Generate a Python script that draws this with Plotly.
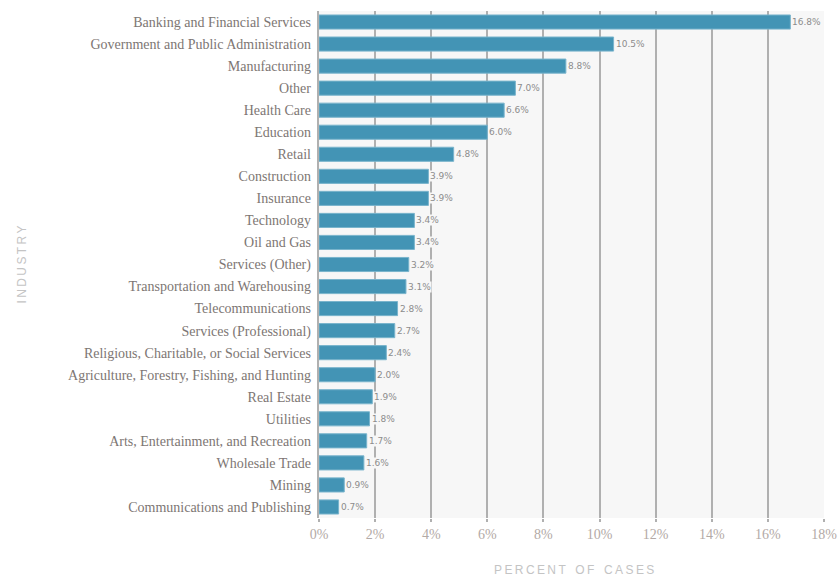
import plotly.graph_objects as go

industries = [
    "Banking and Financial Services",
    "Government and Public Administration",
    "Manufacturing",
    "Other",
    "Health Care",
    "Education",
    "Retail",
    "Construction",
    "Insurance",
    "Technology",
    "Oil and Gas",
    "Services (Other)",
    "Transportation and Warehousing",
    "Telecommunications",
    "Services (Professional)",
    "Religious, Charitable, or Social Services",
    "Agriculture, Forestry, Fishing, and Hunting",
    "Real Estate",
    "Utilities",
    "Arts, Entertainment, and Recreation",
    "Wholesale Trade",
    "Mining",
    "Communications and Publishing",
]
percent = [16.8, 10.5, 8.8, 7.0, 6.6, 6.0, 4.8, 3.9, 3.9, 3.4, 3.4, 3.2, 3.1,
           2.8, 2.7, 2.4, 2.0, 1.9, 1.8, 1.7, 1.6, 0.9, 0.7]
x_ticks = [0, 2, 4, 6, 8, 10, 12, 14, 16, 18]
x_tick_labels = [f"{t}%" for t in x_ticks]

BG = "#f7f7f7"
BAR = "#4394b5"
GRID = "#b0b0b0"
LABEL = "#7d7673"

fig = go.Figure()
fig.add_trace(go.Bar(
    x=percent, y=industries, orientation="h",
    marker=dict(color=BAR, line=dict(color="#79b4cc", width=1)),
    width=0.64, hoverinfo="x+y",
))

for v, name in zip(percent, industries):
    fig.add_annotation(
        x=v, y=name, xref="x", yref="y", text=f"{v:.1f}%",
        showarrow=False, xanchor="left", yanchor="middle", xshift=1,
        font=dict(family="DejaVu Sans", size=9, color="#8c8c8c"),
        bgcolor=BG, borderpad=0,
    )

sp = "\u2009"
def spaced(s):
    return sp.join(ch if ch != " " else sp * 2 for ch in s)

fig.add_annotation(
    xref="paper", yref="paper", x=-0.59, y=0.5, text=spaced("INDUSTRY"),
    textangle=-90, showarrow=False, xanchor="center", yanchor="middle",
    font=dict(family="Liberation Sans", size=12, color="#c4c4c4"),
)
fig.add_annotation(
    xref="paper", yref="paper", x=0.505, y=-0.103, text=spaced("PERCENT OF CASES"),
    showarrow=False, xanchor="center", yanchor="middle",
    font=dict(family="Liberation Sans", size=12, color="#c4c4c4"),
)

fig.update_layout(
    width=839, height=577,
    margin=dict(l=319, r=15, t=11, b=59, autoexpand=False),
    paper_bgcolor="white", plot_bgcolor=BG,
    showlegend=False,
    xaxis=dict(
        range=[0, 18], tickvals=x_ticks, ticktext=x_tick_labels,
        showgrid=True, gridcolor=GRID, gridwidth=1.5,
        zeroline=False, showline=False, automargin=False,
        ticks="outside", ticklen=3, tickcolor=GRID, tickwidth=1.5,
        tickfont=dict(family="Liberation Serif", size=14, color="#b3aaa6"),
        fixedrange=True,
    ),
    yaxis=dict(
        autorange="reversed", showgrid=False, showline=True,
        linecolor=GRID, linewidth=1.5, automargin=False,
        ticks="", ticksuffix=" ",
        tickfont=dict(family="Liberation Serif", size=14, color=LABEL),
        fixedrange=True,
    ),
    bargap=0.36,
)

fig.write_html("out.html")
